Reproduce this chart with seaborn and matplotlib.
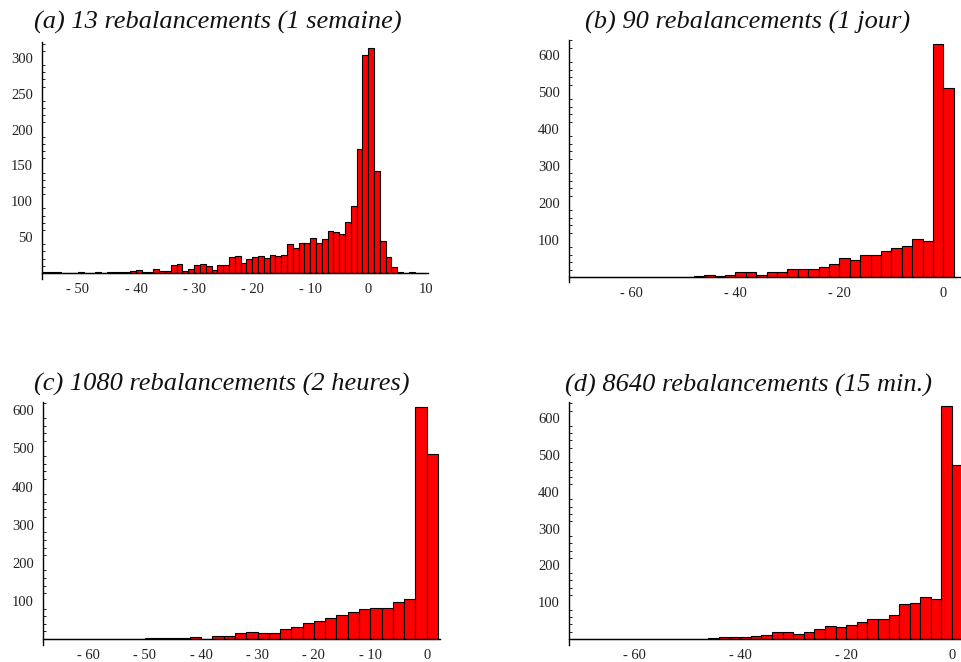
import numpy as np
import pandas as pd
import matplotlib
matplotlib.use("Agg")
import matplotlib.pyplot as plt
import seaborn as sns
from matplotlib.ticker import AutoMinorLocator

# (a) 13 rebalancements, bins of width 1 starting at -56
a_start, a_width = -56, 1
a_counts = [1, 1, 1, 0, 0, 0, 2, 0, 0, 2,
            0, 2, 1, 1, 1, 3, 4, 1, 2, 5,
            3, 3, 11, 12, 3, 5, 11, 12, 10, 4,
            11, 11, 22, 24, 14, 19, 22, 24, 21, 25,
            24, 25, 40, 35, 42, 42, 49, 42, 48, 59,
            57, 54, 71, 94, 173, 304, 314, 142, 45, 22,
            8, 1, 0, 1, 0, 0]

# (b) 90 rebalancements, bins of width 2 starting at -72
b_start, b_width = -72, 2
b_counts = [0, 1, 1, 0, 1, 0, 1, 0, 1, 1,
            0, 1, 2, 4, 3, 4, 14, 14, 6, 14,
            14, 21, 21, 21, 28, 36, 50, 45, 58, 58,
            70, 78, 84, 103, 96, 629, 510]

# (c) 1080 rebalancements, bins of width 2 starting at -68
c_start, c_width = -68, 2
c_counts = [1, 0, 0, 1, 0, 0, 1, 0, 1, 2,
            3, 3, 3, 6, 1, 7, 8, 15, 19, 17,
            15, 25, 31, 43, 47, 56, 63, 71, 80, 82,
            82, 96, 105, 609, 484]

# (d) 8640 rebalancements, bins of width 2 starting at -72
d_start, d_width = -72, 2
d_counts = [1, 0, 1, 1, 0, 0, 0, 1, 0, 1,
            1, 1, 1, 2, 5, 5, 5, 9, 10, 20,
            18, 14, 18, 27, 36, 34, 37, 46, 54, 54,
            66, 95, 99, 114, 108, 632, 473]

titles = ["(a) 13 rebalancements (1 semaine)",
          "(b) 90 rebalancements (1 jour)",
          "(c) 1080 rebalancements (2 heures)",
          "(d) 8640 rebalancements (15 min.)"]

a_xticks = [-50, -40, -30, -20, -10, 0, 10]
b_xticks = [-60, -40, -20, 0]
c_xticks = [-60, -50, -40, -30, -20, -10, 0]
d_xticks = [-60, -40, -20, 0]
a_yticks = [50, 100, 150, 200, 250, 300]
big_yticks = [100, 200, 300, 400, 500, 600]


def tick_text(values):
    return [f"- {abs(v)}" if v < 0 else str(v) for v in values]


sns.set_theme(style="white")
plt.rcParams["font.family"] = ["Liberation Serif", "DejaVu Serif"]

fig = plt.figure(figsize=(9.61, 6.62), dpi=100)

panels = [
    # counts, start, width, rect, xlim, ylim, xticks, yticks, title xy
    (a_counts, a_start, a_width, [0.0437, 0.579, 0.4017, 0.3574], (-56.2, 10.3), (-8, 322),
     a_xticks, a_yticks, (0.2268, 0.9668)),
    (b_counts, b_start, b_width, [0.5921, 0.5733, 0.408, 0.367], (-72, 3.4), (-15, 642),
     b_xticks, big_yticks, (0.778, 0.9668)),
    (c_counts, c_start, c_width, [0.0444, 0.0261, 0.4137, 0.3674], (-68.1, 2.4), (-15, 623),
     c_xticks, big_yticks, (0.231, 0.42)),
    (d_counts, d_start, d_width, [0.5921, 0.0263, 0.408, 0.367], (-72.3, 1.7), (-15, 645),
     d_xticks, big_yticks, (0.779, 0.4184)),
]

for (counts, start, width, rect, xlim, ylim, xticks, yticks, txy), title in zip(panels, titles):
    ax = fig.add_axes(rect)
    n_bins = len(counts)
    lefts = start + width * np.arange(n_bins)
    df = pd.DataFrame({"value": lefts + width / 2, "count": counts})
    sns.histplot(data=df, x="value", weights="count", binwidth=width,
                 binrange=(start, start + width * n_bins), ax=ax,
                 color="#ff0000", edgecolor="black", linewidth=0.8, alpha=1)
    ax.set_xlim(*xlim)
    ax.set_ylim(*ylim)
    ax.set_xlabel("")
    ax.set_ylabel("")

    # axes through the origin, Mathematica style
    ax.spines["top"].set_visible(False)
    ax.spines["right"].set_visible(False)
    ax.spines["bottom"].set_position(("data", 0))
    for side in ["left", "bottom"]:
        ax.spines[side].set_color("black")
        ax.spines[side].set_linewidth(1.0)

    ax.set_xticks(xticks, tick_text(xticks))
    ax.set_yticks(yticks, tick_text(yticks))
    ax.yaxis.set_minor_locator(AutoMinorLocator(5))
    ax.tick_params(axis="both", which="major", direction="in", length=4, width=0.8,
                   color="black", labelsize=10.5, labelcolor="#222222")
    ax.tick_params(axis="x", which="major", pad=7)
    ax.tick_params(axis="y", which="major", pad=6.5)
    ax.tick_params(axis="y", which="minor", direction="in", length=2.2, width=0.6,
                   color="black", left=True)
    ax.set_facecolor("white")

    fig.text(txy[0], txy[1], title, ha="center", va="center",
             fontsize=19, style="italic", color="#111111")

fig.savefig("out.png", dpi=100)
